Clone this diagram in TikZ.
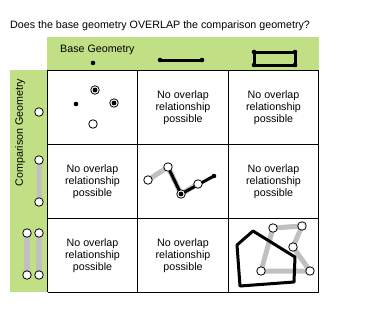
\documentclass[tikz,border=0pt]{standalone}
\usepackage{fontspec}
\setmainfont{Liberation Sans}
\definecolor{hdrgreen}{RGB}{193,223,133}
\definecolor{lgray}{RGB}{192,192,192}
\begin{document}
\begin{tikzpicture}[x=1pt,y=-1pt,
  opc/.style={circle,draw=black,fill=white,line width=0.8pt,minimum size=8.5pt,inner sep=0pt},
  hitc/.style={opc,path picture={\fill[black] (path picture bounding box.center) circle (2.4pt);}},
  dotc/.style={circle,fill=black,minimum size=4.6pt,inner sep=0pt},
  ctext/.style={align=center,font=\fontsize{10.7}{12.2}\selectfont,inner sep=0pt},
  glabel/.style={font=\fontsize{10.7}{13}\selectfont,inner sep=0pt},
  grayline/.style={draw=lgray,line width=5pt},
  blkline/.style={draw=black,line width=3pt},
  gridline/.style={draw=black,line width=0.9pt}]
\useasboundingbox (0,0) rectangle (379,319);
% title
\node[glabel,anchor=west] (title) at (10,26) {Does the base geometry OVERLAP the comparison geometry?};
% green bands
\fill[hdrgreen] (47,37) rectangle (319,70);
\fill[hdrgreen] (10,70) rectangle (47,292);
\node[glabel,anchor=west] (base) at (60,50) {Base Geometry};
\node[glabel,rotate=90] (comp) at (20,132.5) {Comparison Geometry};
% grid
\foreach \x in {47.5,137.5,228.5,318.5} \draw[gridline] (\x,70) -- (\x,292);
\foreach \y in {70,144.5,218.5,292} \draw[gridline] (47.5,\y) -- (318.5,\y);
% header symbols
\node[dotc] (hp) at (93,63) {};
\coordinate (hl1) at (160,60);
\coordinate (hl2) at (202,60);
\draw[blkline] (hl1) -- (hl2);
\node[dotc] at (hl1) {};
\node[dotc] at (hl2) {};
\coordinate (r1) at (254,52);
\coordinate (r2) at (295,52);
\coordinate (r3) at (295,65);
\coordinate (r4) at (254,65);
\draw[blkline] (r1) -- (r2) -- (r3) -- (r4) -- cycle;
\foreach \c in {r1,r2,r3,r4} \node[dotc] at (\c) {};
% left symbols
\node[opc] (lp) at (39,112) {};
\coordinate (la) at (39,160);
\coordinate (lb) at (39,202);
\draw[grayline] (la) -- (lb);
\node[opc] at (la) {};
\node[opc] at (lb) {};
\coordinate (lc1) at (27,233);
\coordinate (lc2) at (27,275);
\coordinate (ld1) at (39,233);
\coordinate (ld2) at (39,275);
\draw[draw=lgray,line width=6pt] (lc1) -- (lc2);
\draw[draw=lgray,line width=6pt] (ld1) -- (ld2);
\foreach \c in {lc1,lc2,ld1,ld2} \node[opc] at (\c) {};
% cell 1,1
\node[dotc] (p1) at (76,104) {};
\node[hitc] (p2) at (95,90) {};
\node[hitc] (p3) at (114,103) {};
\node[opc] (p4) at (93,124) {};
% text cells
\node[ctext] (t12) at (183,107.5) {No overlap\\relationship\\possible};
\node[ctext] (t13) at (273.5,107.5) {No overlap\\relationship\\possible};
\node[ctext] (t21) at (92.5,181.5) {No overlap\\relationship\\possible};
\node[ctext] (t23) at (273.5,181.5) {No overlap\\relationship\\possible};
\node[ctext] (t31) at (92.5,255.5) {No overlap\\relationship\\possible};
\node[ctext] (t32) at (183,255.5) {No overlap\\relationship\\possible};
% cell 2,2
\coordinate (a1) at (148,180);
\coordinate (a2) at (168,167);
\coordinate (a3) at (181,194);
\coordinate (a4) at (198,184);
\coordinate (a5) at (214,176);
\draw[grayline,line join=round] (a1) -- (a2) -- (a3) -- (a4);
\draw[blkline] (a2) -- (a3) -- (a5);
\node[dotc] at (a5) {};
\node[opc] at (a1) {};
\node[opc] at (a2) {};
\node[hitc] at (a3) {};
\node[opc] at (a4) {};
% cell 3,3
\coordinate (g1) at (273,228);
\coordinate (g2) at (302,226);
\coordinate (g3) at (293,247);
\coordinate (g4) at (310,271);
\coordinate (g5) at (261,271);
\draw[grayline,line join=round] (g1) -- (g2) -- (g3) -- (g4) -- (g5) -- cycle;
\coordinate (b1) at (237,245);
\coordinate (b2) at (253,231);
\coordinate (b3) at (295,257);
\coordinate (b4) at (294,282);
\coordinate (b5) at (240,286);
\draw[blkline,line join=round] (b1) -- (b2) -- (b3) -- (b4) -- (b5) -- cycle;
\foreach \c in {g1,g2,g3,g4,g5} \node[opc] at (\c) {};
\end{tikzpicture}
\end{document}
